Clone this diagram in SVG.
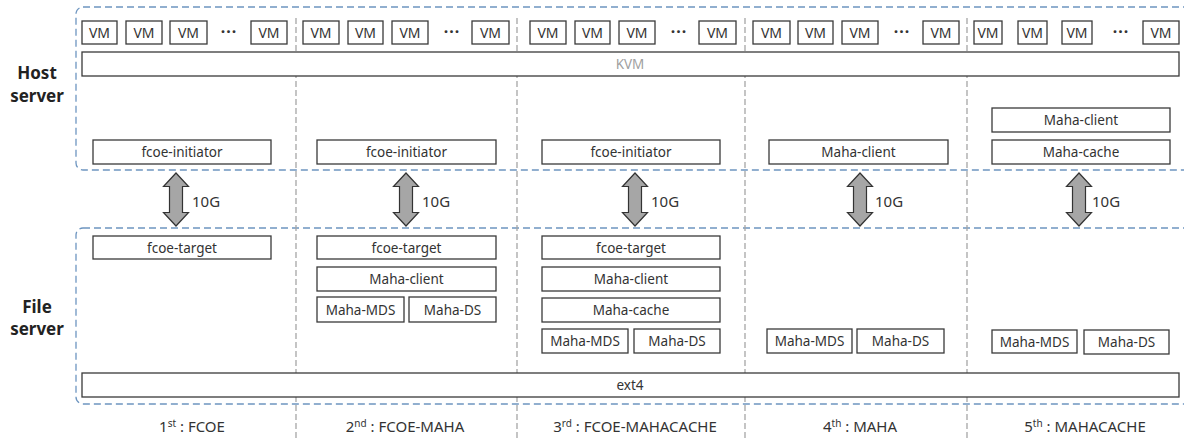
<svg xmlns="http://www.w3.org/2000/svg" width="1184" height="438" viewBox="0 0 1184 438">
<defs>
<style>
.grp{fill:none;stroke:#6d95c0;stroke-width:1.3;stroke-dasharray:7 4}
.sep{fill:none;stroke:#a6a6a6;stroke-width:1.3;stroke-dasharray:6 3}
.box{fill:#fff;stroke:#3a3a3a;stroke-width:1.3}
.t{font-family:"Noto Sans","Open Sans",sans-serif;font-size:13.5px;fill:#333;text-anchor:middle;dominant-baseline:central}
.vm{font-size:14px}
.dots{font-family:"Noto Sans","Open Sans",sans-serif;font-size:16px;font-weight:bold;fill:#333;text-anchor:middle;letter-spacing:1px}
.kvm{fill:#a0a0a0}
.side{font-family:"Noto Sans","Open Sans",sans-serif;font-size:17px;font-weight:bold;fill:#222;text-anchor:middle}
.g{font-family:"Noto Sans","Open Sans",sans-serif;font-size:15px;fill:#333}
.lbl{font-family:"Noto Sans","Open Sans",sans-serif;font-size:15px;fill:#333;text-anchor:middle}
.arr{fill:#a6a6a6;stroke:#333;stroke-width:1.2;stroke-linejoin:miter}
</style>
<polygon id="dArr" class="arr" points="0,-26.5 12.5,-13 6.5,-13 6.5,13 12.5,13 0,26.5 -12.5,13 -6.5,13 -6.5,-13 -12.5,-13"/>
</defs>
<rect width="1184" height="438" fill="#fff"/>

<g id="groups">
<rect class="grp" x="76" y="7" width="1130" height="163" rx="7"/>
<rect class="grp" x="76" y="228" width="1130" height="176" rx="7"/>
</g>

<g id="separators">
<line class="sep" x1="296" y1="18" x2="296" y2="438"/>
<line class="sep" x1="517" y1="18" x2="517" y2="438"/>
<line class="sep" x1="745" y1="18" x2="745" y2="438"/>
<line class="sep" x1="967" y1="18" x2="967" y2="438"/>
</g>

<g id="side-labels">
<text class="side" x="37" y="79">Host</text>
<text class="side" x="37" y="102">server</text>
<text class="side" x="37" y="313">File</text>
<text class="side" x="37" y="335">server</text>
</g>

<g id="vms">
<rect class="box" x="82" y="21" width="35" height="23"/><text class="t vm" x="99.5" y="32.5">VM</text>
<rect class="box" x="126" y="21" width="36" height="23"/><text class="t vm" x="144" y="32.5">VM</text>
<rect class="box" x="170" y="21" width="37" height="23"/><text class="t vm" x="188.5" y="32.5">VM</text>
<text class="dots" x="229" y="37">···</text>
<rect class="box" x="251" y="21" width="36" height="23"/><text class="t vm" x="269" y="32.5">VM</text>

<rect class="box" x="303" y="21" width="36" height="23"/><text class="t vm" x="321" y="32.5">VM</text>
<rect class="box" x="348" y="21" width="35" height="23"/><text class="t vm" x="365.5" y="32.5">VM</text>
<rect class="box" x="392" y="21" width="36" height="23"/><text class="t vm" x="410" y="32.5">VM</text>
<text class="dots" x="452" y="37">···</text>
<rect class="box" x="472" y="21" width="37" height="23"/><text class="t vm" x="490.5" y="32.5">VM</text>

<rect class="box" x="530" y="21" width="36" height="23"/><text class="t vm" x="548" y="32.5">VM</text>
<rect class="box" x="575" y="21" width="35" height="23"/><text class="t vm" x="592.5" y="32.5">VM</text>
<rect class="box" x="619" y="21" width="36" height="23"/><text class="t vm" x="637" y="32.5">VM</text>
<text class="dots" x="679" y="37">···</text>
<rect class="box" x="699" y="21" width="37" height="23"/><text class="t vm" x="717.5" y="32.5">VM</text>

<rect class="box" x="753" y="21" width="37" height="23"/><text class="t vm" x="771.5" y="32.5">VM</text>
<rect class="box" x="798" y="21" width="35" height="23"/><text class="t vm" x="815.5" y="32.5">VM</text>
<rect class="box" x="842" y="21" width="36" height="23"/><text class="t vm" x="860" y="32.5">VM</text>
<text class="dots" x="902" y="37">···</text>
<rect class="box" x="923" y="21" width="36" height="23"/><text class="t vm" x="941" y="32.5">VM</text>

<rect class="box" x="974" y="21" width="28" height="23"/><text class="t vm" x="988" y="32.5">VM</text>
<rect class="box" x="1018" y="21" width="29" height="23"/><text class="t vm" x="1032.5" y="32.5">VM</text>
<rect class="box" x="1062" y="21" width="30" height="23"/><text class="t vm" x="1077" y="32.5">VM</text>
<text class="dots" x="1121" y="37">···</text>
<rect class="box" x="1143" y="21" width="36" height="23"/><text class="t vm" x="1161" y="32.5">VM</text>
</g>

<g id="kvm">
<rect class="box" x="82" y="52" width="1097" height="24"/>
<text class="t kvm" x="630" y="64">KVM</text>
</g>

<g id="host-modules">
<rect class="box" x="93" y="140" width="178" height="24"/><text class="t" x="182" y="152">fcoe-initiator</text>
<rect class="box" x="317" y="140" width="179" height="24"/><text class="t" x="406.5" y="152">fcoe-initiator</text>
<rect class="box" x="542" y="140" width="178" height="24"/><text class="t" x="631" y="152">fcoe-initiator</text>
<rect class="box" x="769" y="140" width="179" height="24"/><text class="t" x="858.5" y="152">Maha-client</text>
<rect class="box" x="992" y="108" width="178" height="24"/><text class="t" x="1081" y="120">Maha-client</text>
<rect class="box" x="992" y="140" width="178" height="24"/><text class="t" x="1081" y="152">Maha-cache</text>
</g>

<g id="connectors">
<use href="#dArr" x="176" y="199.5"/>
<use href="#dArr" x="406" y="199.5"/>
<use href="#dArr" x="635" y="199.5"/>
<use href="#dArr" x="860" y="199.5"/>
<use href="#dArr" x="1079" y="199.5"/>
<text class="g" x="192" y="207">10G</text>
<text class="g" x="422" y="207">10G</text>
<text class="g" x="651" y="207">10G</text>
<text class="g" x="875" y="207">10G</text>
<text class="g" x="1092" y="207">10G</text>
</g>

<g id="file-modules">
<rect class="box" x="93" y="236" width="178" height="23"/><text class="t" x="182" y="247.5">fcoe-target</text>

<rect class="box" x="317" y="236" width="179" height="23"/><text class="t" x="406.5" y="247.5">fcoe-target</text>
<rect class="box" x="317" y="267" width="179" height="24"/><text class="t" x="406.5" y="279">Maha-client</text>
<rect class="box" x="317" y="297" width="87" height="25"/><text class="t" x="360.5" y="309.5">Maha-MDS</text>
<rect class="box" x="409" y="297" width="87" height="25"/><text class="t" x="452.5" y="309.5">Maha-DS</text>

<rect class="box" x="542" y="236" width="178" height="23"/><text class="t" x="631" y="247.5">fcoe-target</text>
<rect class="box" x="542" y="267" width="178" height="24"/><text class="t" x="631" y="279">Maha-client</text>
<rect class="box" x="542" y="298" width="178" height="24"/><text class="t" x="631" y="310">Maha-cache</text>
<rect class="box" x="542" y="329" width="86" height="24"/><text class="t" x="585" y="341">Maha-MDS</text>
<rect class="box" x="634" y="329" width="86" height="24"/><text class="t" x="677" y="341">Maha-DS</text>

<rect class="box" x="767" y="329" width="85" height="24"/><text class="t" x="809.5" y="341">Maha-MDS</text>
<rect class="box" x="857" y="329" width="87" height="24"/><text class="t" x="900.5" y="341">Maha-DS</text>

<rect class="box" x="992" y="330" width="85" height="23"/><text class="t" x="1034.5" y="341.5">Maha-MDS</text>
<rect class="box" x="1084" y="330" width="85" height="24"/><text class="t" x="1126.5" y="342">Maha-DS</text>
</g>

<g id="ext4">
<rect class="box" x="82" y="373" width="1097" height="24"/>
<text class="t" x="630" y="385">ext4</text>
</g>

<g id="case-labels">
<text class="lbl" x="192" y="432">1<tspan font-size="10" dy="-5">st</tspan><tspan dy="5"> : FCOE</tspan></text>
<text class="lbl" x="405" y="432">2<tspan font-size="10" dy="-5">nd</tspan><tspan dy="5"> : FCOE-MAHA</tspan></text>
<text class="lbl" x="635" y="432">3<tspan font-size="10" dy="-5">rd</tspan><tspan dy="5"> : FCOE-MAHACACHE</tspan></text>
<text class="lbl" x="860" y="432">4<tspan font-size="10" dy="-5">th</tspan><tspan dy="5"> : MAHA</tspan></text>
<text class="lbl" x="1085" y="432">5<tspan font-size="10" dy="-5">th</tspan><tspan dy="5"> : MAHACACHE</tspan></text>
</g>
</svg>
